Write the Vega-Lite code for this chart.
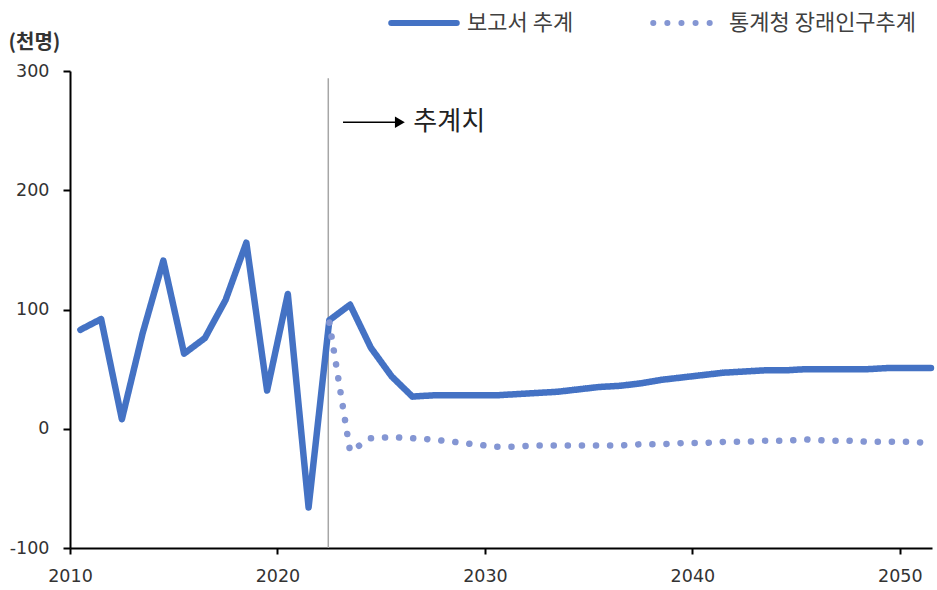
{
  "$schema": "https://vega.github.io/schema/vega-lite/v6.json",
  "width": 862,
  "height": 477,
  "autosize": {"type": "none"},
  "padding": {"left": 70, "top": 71, "right": 5, "bottom": 42},
  "background": "white",
  "config": {"view": {"stroke": null}, "font": "DejaVu Sans"},
  "datasets": {
    "series": [
      {"year": 2010, "series": "보고서 추계", "value": 83},
      {"year": 2011, "series": "보고서 추계", "value": 92},
      {"year": 2012, "series": "보고서 추계", "value": 8},
      {"year": 2013, "series": "보고서 추계", "value": 80},
      {"year": 2014, "series": "보고서 추계", "value": 141},
      {"year": 2015, "series": "보고서 추계", "value": 63},
      {"year": 2016, "series": "보고서 추계", "value": 76},
      {"year": 2017, "series": "보고서 추계", "value": 108},
      {"year": 2018, "series": "보고서 추계", "value": 156},
      {"year": 2019, "series": "보고서 추계", "value": 32},
      {"year": 2020, "series": "보고서 추계", "value": 113},
      {"year": 2021, "series": "보고서 추계", "value": -66},
      {"year": 2022, "series": "보고서 추계", "value": 91},
      {"year": 2023, "series": "보고서 추계", "value": 104},
      {"year": 2024, "series": "보고서 추계", "value": 68},
      {"year": 2025, "series": "보고서 추계", "value": 44},
      {"year": 2026, "series": "보고서 추계", "value": 27},
      {"year": 2027, "series": "보고서 추계", "value": 28},
      {"year": 2028, "series": "보고서 추계", "value": 28},
      {"year": 2029, "series": "보고서 추계", "value": 28},
      {"year": 2030, "series": "보고서 추계", "value": 28},
      {"year": 2031, "series": "보고서 추계", "value": 29},
      {"year": 2032, "series": "보고서 추계", "value": 30},
      {"year": 2033, "series": "보고서 추계", "value": 31},
      {"year": 2034, "series": "보고서 추계", "value": 33},
      {"year": 2035, "series": "보고서 추계", "value": 35},
      {"year": 2036, "series": "보고서 추계", "value": 36},
      {"year": 2037, "series": "보고서 추계", "value": 38},
      {"year": 2038, "series": "보고서 추계", "value": 41},
      {"year": 2039, "series": "보고서 추계", "value": 43},
      {"year": 2040, "series": "보고서 추계", "value": 45},
      {"year": 2041, "series": "보고서 추계", "value": 47},
      {"year": 2042, "series": "보고서 추계", "value": 48},
      {"year": 2043, "series": "보고서 추계", "value": 49},
      {"year": 2044, "series": "보고서 추계", "value": 49},
      {"year": 2045, "series": "보고서 추계", "value": 50},
      {"year": 2046, "series": "보고서 추계", "value": 50},
      {"year": 2047, "series": "보고서 추계", "value": 50},
      {"year": 2048, "series": "보고서 추계", "value": 50},
      {"year": 2049, "series": "보고서 추계", "value": 51},
      {"year": 2050, "series": "보고서 추계", "value": 51},
      {"year": 2051, "series": "보고서 추계", "value": 51},
      {"year": 2022, "series": "통계청 장래인구추계", "value": 89},
      {"year": 2023, "series": "통계청 장래인구추계", "value": -19},
      {"year": 2024, "series": "통계청 장래인구추계", "value": -8},
      {"year": 2025, "series": "통계청 장래인구추계", "value": -7},
      {"year": 2026, "series": "통계청 장래인구추계", "value": -8},
      {"year": 2027, "series": "통계청 장래인구추계", "value": -9},
      {"year": 2028, "series": "통계청 장래인구추계", "value": -11},
      {"year": 2029, "series": "통계청 장래인구추계", "value": -13},
      {"year": 2030, "series": "통계청 장래인구추계", "value": -15},
      {"year": 2031, "series": "통계청 장래인구추계", "value": -15},
      {"year": 2032, "series": "통계청 장래인구추계", "value": -14},
      {"year": 2033, "series": "통계청 장래인구추계", "value": -14},
      {"year": 2034, "series": "통계청 장래인구추계", "value": -14},
      {"year": 2035, "series": "통계청 장래인구추계", "value": -14},
      {"year": 2036, "series": "통계청 장래인구추계", "value": -14},
      {"year": 2037, "series": "통계청 장래인구추계", "value": -13},
      {"year": 2038, "series": "통계청 장래인구추계", "value": -13},
      {"year": 2039, "series": "통계청 장래인구추계", "value": -12},
      {"year": 2040, "series": "통계청 장래인구추계", "value": -12},
      {"year": 2041, "series": "통계청 장래인구추계", "value": -11},
      {"year": 2042, "series": "통계청 장래인구추계", "value": -11},
      {"year": 2043, "series": "통계청 장래인구추계", "value": -10},
      {"year": 2044, "series": "통계청 장래인구추계", "value": -10},
      {"year": 2045, "series": "통계청 장래인구추계", "value": -9},
      {"year": 2046, "series": "통계청 장래인구추계", "value": -10},
      {"year": 2047, "series": "통계청 장래인구추계", "value": -10},
      {"year": 2048, "series": "통계청 장래인구추계", "value": -11},
      {"year": 2049, "series": "통계청 장래인구추계", "value": -11},
      {"year": 2050, "series": "통계청 장래인구추계", "value": -11},
      {"year": 2051, "series": "통계청 장래인구추계", "value": -12}
    ]
  },
  "layer": [
    {
      "data": {"values": [{}]},
      "mark": {"type": "rule", "color": "#A6A6A6", "strokeWidth": 1.5},
      "encoding": {
        "x": {"datum": 2021.95, "type": "quantitative"},
        "y": {"datum": 294, "type": "quantitative"},
        "y2": {"datum": -100}
      }
    },
    {
      "data": {"name": "series"},
      "mark": {"type": "line", "strokeWidth": 6.5, "strokeCap": "round", "strokeJoin": "round"},
      "encoding": {
        "x": {
          "field": "year",
          "type": "quantitative",
          "scale": {"domain": [2009.5, 2051.05], "nice": false, "zero": false},
          "axis": {
            "values": [2009.5, 2019.5, 2029.5, 2039.5, 2049.5],
            "labelExpr": "'' + (datum.value + 0.5)",
            "title": null,
            "grid": false,
            "domainColor": "black",
            "domainWidth": 2,
            "tickColor": "black",
            "tickWidth": 2,
            "tickSize": 6,
            "labelFont": "DejaVu Sans",
            "labelFontSize": 17.5,
            "labelPadding": 13,
            "labelColor": "#333333",
            "labelFlush": false,
            "labelOverlap": false
          }
        },
        "y": {
          "field": "value",
          "type": "quantitative",
          "scale": {"domain": [-100, 300], "nice": false, "zero": false},
          "axis": {
            "values": [-100, 0, 100, 200, 300],
            "labelExpr": "'' + datum.value",
            "title": "(천명)",
            "titleAngle": 0,
            "titleAlign": "left",
            "titleBaseline": "middle",
            "titleX": -62,
            "titleY": -29,
            "titleFont": "Noto Sans CJK KR",
            "titleFontSize": 20,
            "titleFontWeight": "bold",
            "titleColor": "#333333",
            "grid": false,
            "domainColor": "black",
            "domainWidth": 2,
            "tickColor": "black",
            "tickWidth": 2,
            "tickSize": 7,
            "labelFont": "DejaVu Sans",
            "labelFontSize": 17.5,
            "labelPadding": 14,
            "labelColor": "#333333"
          }
        },
        "color": {
          "field": "series",
          "type": "nominal",
          "scale": {"domain": ["보고서 추계", "통계청 장래인구추계"], "range": ["#4472C4", "#8496D3"]},
          "legend": {
            "orient": "none",
            "legendX": 318,
            "legendY": -84,
            "direction": "horizontal",
            "title": null,
            "symbolType": "stroke",
            "symbolSize": 4300,
            "symbolStrokeWidth": 6,
            "labelFont": "Noto Sans CJK KR",
            "labelFontSize": 22,
            "labelLimit": 400,
            "labelColor": "#404040",
            "labelOffset": 7,
            "columnPadding": 67,
            "padding": 0,
            "encode": {"symbols": {"update": {"strokeCap": {"value": "round"}}}}
          }
        },
        "strokeDash": {
          "field": "series",
          "type": "nominal",
          "scale": {"domain": ["보고서 추계", "통계청 장래인구추계"], "range": [[1, 0], [0.1, 14]]},
          "legend": {
            "orient": "none",
            "legendX": 318,
            "legendY": -84,
            "direction": "horizontal",
            "title": null,
            "symbolType": "stroke",
            "symbolSize": 4300,
            "symbolStrokeWidth": 6,
            "labelFont": "Noto Sans CJK KR",
            "labelFontSize": 22,
            "labelLimit": 400,
            "labelColor": "#404040",
            "labelOffset": 7,
            "columnPadding": 67,
            "padding": 0,
            "encode": {"symbols": {"update": {"strokeCap": {"value": "round"}}}}
          }
        }
      }
    },
    {
      "data": {"values": [{}]},
      "mark": {"type": "rule", "color": "black", "strokeWidth": 1.5},
      "encoding": {
        "x": {"datum": 2022.66, "type": "quantitative"},
        "x2": {"datum": 2025.2},
        "y": {"datum": 257, "type": "quantitative"}
      }
    },
    {
      "data": {"values": [{}]},
      "mark": {"type": "point", "shape": "triangle-right", "filled": true, "color": "black", "size": 130, "opacity": 1},
      "encoding": {
        "x": {"datum": 2025.4, "type": "quantitative"},
        "y": {"datum": 257, "type": "quantitative"}
      }
    },
    {
      "data": {"values": [{}]},
      "mark": {"type": "text", "text": "추계치", "align": "left", "baseline": "middle", "font": "Noto Sans CJK KR", "fontSize": 26, "color": "#222222"},
      "encoding": {
        "x": {"datum": 2026.05, "type": "quantitative"},
        "y": {"datum": 257, "type": "quantitative"}
      }
    }
  ]
}
